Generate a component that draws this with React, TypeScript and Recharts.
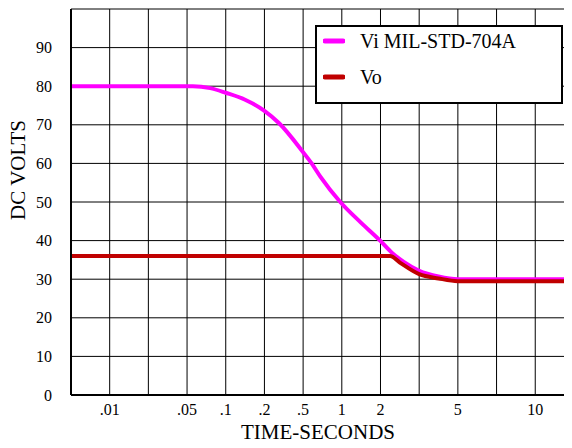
import React from "react";
import { LineChart, Line, XAxis, YAxis, CartesianGrid, Legend, Label } from "recharts";

// time axis is not a true log scale: one grid column per step, labels on some
const timeSteps = [0, 1, 2, 3, 4, 5, 6, 7, 8, 9, 10, 11, 12];
const timeLabels = ["", ".01", "", ".05", ".1", ".2", ".5", "1", "2", "", "5", "", "10"];
const voltTicks = [0, 10, 20, 30, 40, 50, 60, 70, 80, 90, 100];

// Vi (MIL-STD-704A transient), position on the time axis -> volts
const viPos = [0, 3.15, 3.6, 4, 4.5, 5, 5.38, 6, 6.22, 6.45, 6.96, 7.5, 7.99, 8.3, 8.6, 9, 9.5, 10, 12.95];
const viVolts = [80, 80, 79.5, 78.3, 76.5, 73.6, 70.4, 62.9, 60, 56.5, 50, 44.6, 40, 36.8, 34.5, 32.2, 30.7, 30, 30];

// Vo
const voPos = [0, 8.25, 8.5, 9, 9.5, 10, 12.95];
const voVolts = [36, 36, 34.3, 31.3, 30.2, 29.5, 29.5];

const series = [
  { name: "Vi MIL-STD-704A", color: "#FF00FF" },
  { name: "Vo", color: "#C00000" },
];

const viData = viPos.map((x, i) => ({ x, v: viVolts[i] }));
const voData = voPos.map((x, i) => ({ x, v: voVolts[i] }));

const FONT = "Liberation Serif, Times New Roman, Times, DejaVu Serif, serif";

const LegendBox = () => (
  <div
    style={{
      width: 248,
      height: 79,
      boxSizing: "border-box",
      border: "2px solid #000",
      background: "#fff",
      fontFamily: FONT,
      fontSize: 20,
      color: "#000",
      position: "relative",
    }}
  >
    {series.map((s, i) => (
      <div
        key={s.name}
        style={{ position: "absolute", left: 6, top: 2 + i * 36, height: 24, display: "flex", alignItems: "center" }}
      >
        <svg width={22} height={8} style={{ display: "block" }}>
          <line x1={2} y1={4} x2={20} y2={4} stroke={s.color} strokeWidth={5} strokeLinecap="round" />
        </svg>
        <span style={{ marginLeft: 15, lineHeight: "24px" }}>{s.name}</span>
      </div>
    ))}
  </div>
);

const YTitle = () => (
  <text transform="translate(25,170) rotate(-90)" textAnchor="middle" fontFamily={FONT} fontSize={21} fill="#000">
    DC VOLTS
  </text>
);

const XTitle = () => (
  <text x={318} y={439} textAnchor="middle" fontFamily={FONT} fontSize={21} fill="#000">
    TIME-SECONDS
  </text>
);

export default function App() {
  const tickStyle = { fill: "#000", fontSize: 16, fontFamily: FONT };
  return (
    <div style={{ margin: -8, width: 572, height: 448 }}>
      <LineChart width={572} height={448} margin={{ top: 9, right: 0, bottom: 0, left: 0 }}>
        <CartesianGrid stroke="#000" strokeWidth={1} />
        <XAxis
          type="number"
          dataKey="x"
          domain={[0, 12.95]}
          ticks={timeSteps}
          interval={0}
          tickFormatter={(v: number) => timeLabels[v] ?? ""}
          tick={tickStyle}
          tickLine={false}
          tickSize={0}
          tickMargin={9}
          height={53}
          axisLine={{ stroke: "#000", strokeWidth: 2 }}
        >
          <Label content={<XTitle />} />
        </XAxis>
        <YAxis
          type="number"
          domain={[0, 100]}
          ticks={voltTicks}
          interval={0}
          tickFormatter={(v: number) => (v === 100 ? "" : String(v))}
          tick={tickStyle}
          tickLine={false}
          tickSize={0}
          tickMargin={19}
          width={71}
          axisLine={{ stroke: "#000", strokeWidth: 2 }}
        >
          <Label content={<YTitle />} />
        </YAxis>
        <Legend
          layout="vertical"
          align="center"
          verticalAlign="middle"
          content={<LegendBox />}
          wrapperStyle={{ left: 315, top: 25, width: 248, height: 79 }}
        />
        <Line
          data={viData}
          dataKey="v"
          name={series[0].name}
          type="monotone"
          stroke={series[0].color}
          strokeWidth={4}
          dot={false}
          activeDot={false}
          isAnimationActive={false}
        />
        <Line
          data={voData}
          dataKey="v"
          name={series[1].name}
          type="monotone"
          stroke={series[1].color}
          strokeWidth={4}
          dot={false}
          activeDot={false}
          isAnimationActive={false}
        />
      </LineChart>
    </div>
  );
}
